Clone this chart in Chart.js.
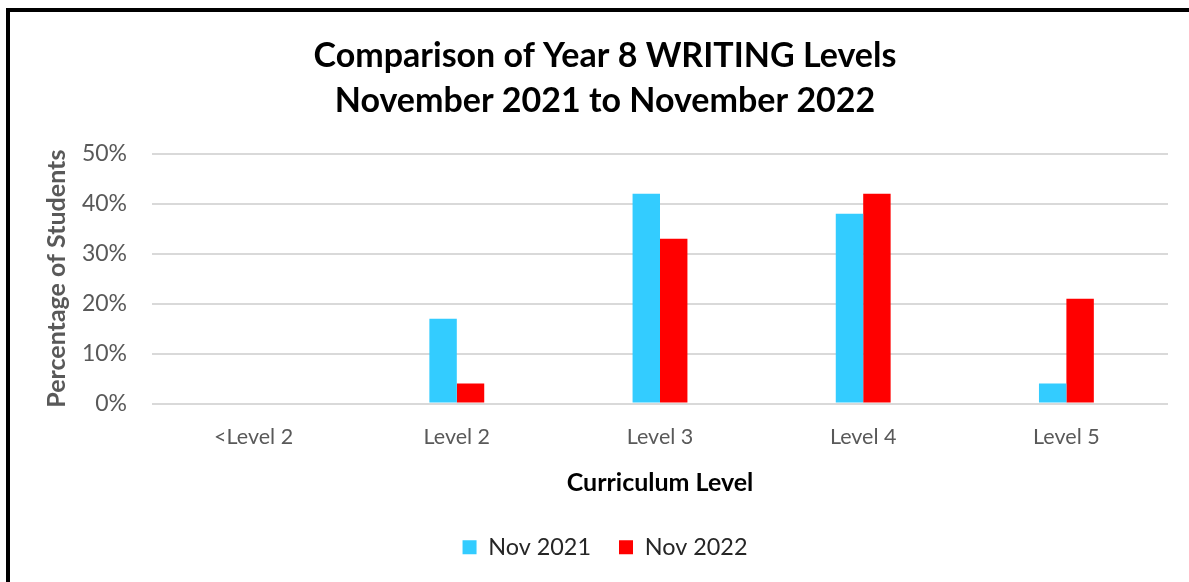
<!DOCTYPE html>
<html>
<head>
<meta charset="utf-8">
<script src="https://cdn.jsdelivr.net/npm/chart.js@4/dist/chart.umd.min.js"></script>
<style>
  html, body { margin: 0; padding: 0; background: #fff; overflow: hidden; }
  #wrap { position: absolute; left: 0; top: 0; width: 1189px; height: 582px; }
  #frame {
    position: absolute; left: 6px; top: 8px; width: 1300px; height: 700px;
    border: 4px solid #000; box-sizing: border-box; pointer-events: none;
  }
</style>
</head>
<body>
<div id="wrap"><canvas id="levelsChart" width="1189" height="582"></canvas></div>
<div id="frame"></div>
<script>
const categories = ['<Level 2', 'Level 2', 'Level 3', 'Level 4', 'Level 5'];
const nov2021 = [0, 17, 42, 38, 4];
const nov2022 = [0, 4, 33, 42, 21];
const yTicks = [0, 10, 20, 30, 40, 50];

const FONT = 'Lato, "Open Sans", sans-serif';

const ctx = document.getElementById('levelsChart').getContext('2d');
new Chart(ctx, {
    type: 'bar',
    data: {
        labels: categories,
        datasets: [
            { label: 'Nov 2021', data: nov2021, backgroundColor: '#33CCFF', borderWidth: 0 },
            { label: 'Nov 2022', data: nov2022, backgroundColor: '#FF0000', borderWidth: 0 }
        ]
    },
    options: {
        responsive: false,
        animation: false,
        layout: { padding: { left: 42, right: 21, top: 0, bottom: 13 } },
        datasets: { bar: { categoryPercentage: 0.27, barPercentage: 1 } },
        plugins: {
            title: {
                display: true,
                text: ['Comparison of Year 8 WRITING Levels', 'November 2021 to November 2022'],
                color: '#000',
                font: { family: FONT, size: 34, weight: 'bold', lineHeight: 1.32 },
                padding: { top: 34, bottom: 30 }
            },
            legend: {
                position: 'bottom',
                labels: {
                    color: '#262626',
                    font: { family: FONT, size: 23.4 },
                    boxWidth: 14,
                    boxHeight: 14,
                    padding: 28
                }
            },
            tooltip: { enabled: false }
        },
        scales: {
            x: {
                afterFit: scale => { scale.height = 104; },
                grid: { display: false, drawTicks: false },
                border: { display: false },
                ticks: { color: '#595959', font: { family: FONT, size: 21.5 }, padding: 21 },
                title: {
                    display: true,
                    text: 'Curriculum Level',
                    color: '#000',
                    font: { family: FONT, size: 25, weight: 'bold' },
                    padding: { top: 0, bottom: 10 }
                }
            },
            y: {
                min: 0,
                max: 50,
                afterBuildTicks: scale => { scale.ticks = yTicks.map(v => ({ value: v })); },
                afterFit: scale => { scale.width = 110; },
                grid: { color: '#D9D9D9', lineWidth: 2, drawTicks: false },
                border: { display: false },
                ticks: {
                    color: '#595959',
                    font: { family: FONT, size: 23 },
                    padding: 25,
                    callback: v => v + '%'
                },
                title: {
                    display: true,
                    text: 'Percentage of Students',
                    color: '#595959',
                    font: { family: FONT, size: 25, weight: 'bold' },
                    padding: { top: 0, bottom: 0 }
                }
            }
        }
    }
});
</script>
</body>
</html>
